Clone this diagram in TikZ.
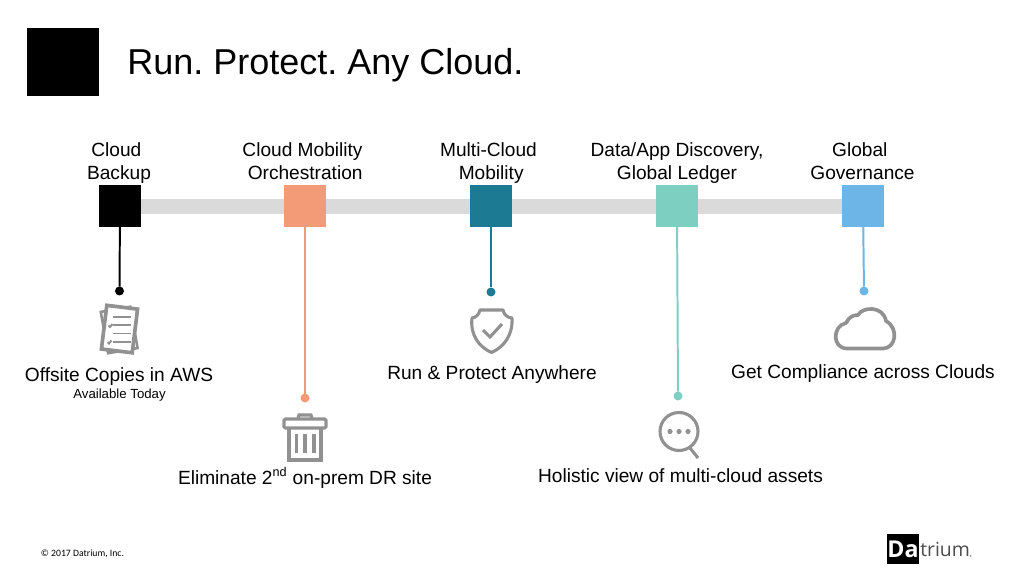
\documentclass[tikz,border=0pt]{standalone}
\usepackage{fontspec}
\setmainfont{Liberation Sans}
\newfontfamily\logofont{Open Sans}
\newfontfamily\notefont{Carlito}
\usepackage{xcolor}
\usetikzlibrary{positioning}
\definecolor{stepblack}{RGB}{0,0,0}
\definecolor{steporange}{RGB}{243,155,119}
\definecolor{stepteal}{RGB}{29,122,147}
\definecolor{stepmint}{RGB}{125,207,193}
\definecolor{stepblue}{RGB}{108,181,230}
\definecolor{bargray}{RGB}{218,218,218}
\definecolor{icongray}{RGB}{145,145,145}
\tikzset{
  % timeline squares
  stepbox/.style={minimum size=42*0.025cm, inner sep=0pt, outer sep=0pt},
  % round end of a stem
  enddot/.style={circle, minimum size=9*0.025cm, inner sep=0pt, outer sep=0pt},
  stem/.style={line width=1.4pt},
  % labels
  heading/.style={font=\fontsize{13.6pt}{16.4pt}\selectfont, align=center, inner sep=0pt},
  caption/.style={font=\fontsize{13.6pt}{16pt}\selectfont, inner sep=0pt, anchor=base},
  icon/.style={draw=icongray, line width=2.2pt},
  iconthin/.style={draw=icongray, line width=1.4pt},
}
\begin{document}
\frenchspacing
\begin{tikzpicture}[x=0.025cm, y=-0.025cm]
  \useasboundingbox (0,0) rectangle (1024,576);

  % Title
  \node[fill=black, minimum width=72*0.025cm, minimum height=68*0.025cm, inner sep=0pt] (logobox) at (63,62) {};
  \node[font=\fontsize{25.6pt}{30pt}\selectfont, inner sep=0pt, anchor=base west] (title) at (127,75) {Run. Protect. Any Cloud.};

  % Bar
  \node[fill=bargray, minimum width=743*0.025cm, minimum height=15*0.025cm, inner sep=0pt] (bar) at (491.5,206.5) {};

  % Steps
  \node[stepbox, fill=stepblack] (backup) at (120,206) {};
  \node[stepbox, fill=steporange] (orch) at (305,206) {};
  \node[stepbox, fill=stepteal] (mobility) at (491,206) {};
  \node[stepbox, fill=stepmint] (discovery) at (677,206) {};
  \node[stepbox, fill=stepblue] (governance) at (863,206) {};

  % Headings
  \node[heading] (backuplab) at (119,163.5) {\strut Cloud\ \null\\\strut Backup};
  \node[heading] (orchlab) at (302.5,163.5) {\strut Cloud Mobility\\\strut\ Orchestration};
  \node[heading] (mobilitylab) at (488.5,163.5) {\strut Multi-Cloud\\\strut\ Mobility};
  \node[heading] (discoverylab) at (677,163.5) {\strut Data/App Discovery,\\\strut Global Ledger};
  \node[heading] (governancelab) at (862.5,163.5) {\strut Global\ \null\\\strut Governance};

  % Stems
  \node[enddot, fill=stepblack] (backupend) at (119.5,291) {};
  \node[enddot, fill=steporange] (orchend) at (305,398) {};
  \node[enddot, fill=stepteal] (mobilityend) at (491,292) {};
  \node[enddot, fill=stepmint] (discoveryend) at (678,396) {};
  \node[enddot, fill=stepblue] (governanceend) at (864,291) {};
  \draw[stem, stepblack] (backup) -- (backupend);
  \draw[stem, steporange] (orch) -- (orchend);
  \draw[stem, stepteal] (mobility) -- (mobilityend);
  \draw[stem, stepmint] (discovery) -- (discoveryend);
  \draw[stem, stepblue] (governance) -- (governanceend);

  % Captions
  \node[caption] (copies) at (119,381) {Offsite Copies in AWS};
  \node[font=\fontsize{9.4pt}{11pt}\selectfont, inner sep=0pt, anchor=base] (today) at (119.5,398.5) {Available Today};
  \node[caption] (eliminate) at (305,484) {Eliminate 2\textsuperscript{\fontsize{9pt}{10pt}\selectfont nd} on-prem DR site};
  \node[caption] (anywhere) at (492,379) {Run \& Protect Anywhere};
  \node[caption] (holistic) at (680.5,482) {Holistic view of multi-cloud assets};
  \node[caption] (compliance) at (863,378) {Get Compliance across Clouds};

  % Papers
  \draw[icon, line width=1.8pt, fill=white, rotate around={10:(119,329)}] (104,309) rectangle (134,351);
  \draw[icon, line width=2.6pt, fill=white, rotate around={-7:(119,329)}] (104,307) rectangle (135,351);
  \draw[iconthin] (113,317) -- (131,317) (113,325) -- (131,325) (113,333.5) -- (131,333.5) (113,342) -- (131,342);
  \draw[iconthin] (108.5,325.5) -- (110,327) -- (112.5,324) (107.5,342) -- (109,343.5) -- (111.5,340.5);

  % Trash
  \draw[icon] (298,418) -- (299,415) -- (311,415) -- (312,418);
  \draw[icon, rounded corners=1pt, fill=white] (284,428) -- (284,419) -- (326,419) -- (326,428) -- cycle;
  \draw[icon] (289,428) -- (289,460) -- (321,460) -- (321,428);
  \draw[icon] (296.5,434) -- (296.5,453) (305,434) -- (305,453) (314,434) -- (314,453);

  % Shield
  \draw[icon, line join=round] (480,310) -- (503,310) .. controls (504,315) and (508,318) .. (512,318)
    .. controls (513,335) and (504,347) .. (491.5,352.5) .. controls (479,347) and (470,335) .. (472,318)
    .. controls (475,318) and (479,315) .. cycle;
  \draw[icon] (483,330) -- (490,337) -- (502,324);

  % Magnifier
  \draw[icon] (679,431.5) circle (19);
  \draw[icon] (690,448) -- (698,458);
  \fill[icongray] (670,431.5) circle (2.6) (679,431.5) circle (2.6) (688,431.5) circle (2.6);

  % Cloud
  \draw[icon, line width=2.6pt, line join=round] (847,348.5) .. controls (832,348.5) and (832,326) .. (846,323)
    .. controls (849,317) and (853,315) .. (858,315) .. controls (862,307) and (883,305) .. (886,321)
    .. controls (899,328) and (896,348.5) .. (883,348.5) -- cycle;

  % Footer
  \node[font=\notefont\fontsize{6.9pt}{8pt}\selectfont, inner sep=0pt] (copyright) at (82.5,553.5) {© 2017 Datrium, Inc.};
  \node[fill=black, minimum width=32*0.025cm, minimum height=30*0.025cm, inner sep=0pt] (brandbox) at (903,549) {};
  \node[font=\logofont\bfseries\fontsize{16.5pt}{18pt}\selectfont, text=white, inner sep=0pt] (brandda) at (903,549.5) {Da};
  \node[font=\logofont\fontsize{13.8pt}{16pt}\selectfont, text=black!70, inner sep=0pt, anchor=west] (brandname) at (920,549.5) {trium};
  \fill[icongray] (970.5,556) circle (1);
\end{tikzpicture}
\end{document}
